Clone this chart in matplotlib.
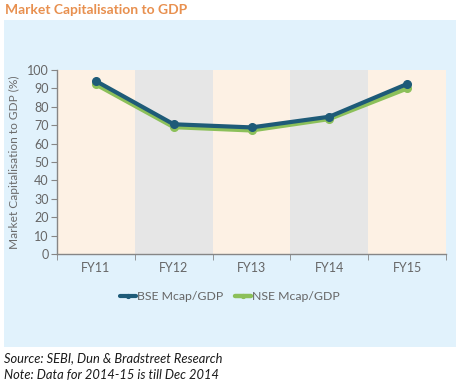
import matplotlib.pyplot as plt
from matplotlib.patches import Rectangle
import numpy as np

plt.rcParams['font.family'] = ['Lato', 'DejaVu Sans']

years = ["FY11", "FY12", "FY13", "FY14", "FY15"]
bse = [94.0, 70.5, 68.8, 74.6, 92.4]
nse = [92.2, 69.0, 67.2, 73.4, 90.0]

W, H = 458, 384
fig = plt.figure(figsize=(W / 100, H / 100), dpi=100)
fig.patch.set_facecolor("white")

# light blue panel behind the chart
fig.patches.append(Rectangle((4 / W, 1 - 347 / H), 452 / W, 327 / H,
                             transform=fig.transFigure, facecolor="#E1F2FC",
                             edgecolor="none", zorder=-1))

ax = fig.add_axes([57 / W, 1 - 254 / H, 389 / W, 184 / H])
ax.set_facecolor("none")

band_colors = ["#FDF1E4", "#E6E6E6"]
x = np.arange(len(years))
for i in x:
    ax.axvspan(i - 0.5, i + 0.5, color=band_colors[i % 2], zorder=0, lw=0)

ax.plot(x, bse, color="#1E5B78", lw=3, marker="o", ms=5.5, zorder=3,
        label="BSE Mcap/GDP", solid_capstyle="round")
ax.plot(x, nse, color="#8CC05A", lw=3.2, marker="o", ms=5.5, zorder=2.5,
        label="NSE Mcap/GDP", solid_capstyle="round")

ax.set_xlim(-0.5, len(years) - 0.5)
ax.set_ylim(0, 100)
ax.set_yticks(range(0, 101, 10))
ax.set_xticks(x)
ax.set_xticklabels(years)
ax.set_xticks(np.arange(-0.5, len(years), 1), minor=True)
ax.tick_params(axis="x", which="major", length=0, pad=6)
ax.tick_params(axis="x", which="minor", length=4, color="#868686", direction="out")
ax.tick_params(axis="y", length=4, color="#868686", pad=2)
ax.tick_params(labelsize=9, labelcolor="#666666")

for side in ["top", "right"]:
    ax.spines[side].set_visible(False)
for side in ["left", "bottom"]:
    ax.spines[side].set_color("#868686")
    ax.spines[side].set_linewidth(1)

ax.set_ylabel("Market Capitalisation to GDP (%)", fontsize=8.6, color="#6b6b6b",
              labelpad=5)

leg = fig.legend(loc="center", bbox_to_anchor=(230 / W, 1 - 297 / H), ncol=2,
                 frameon=False, fontsize=8.8, handlelength=1.3, handletextpad=0.05,
                 columnspacing=1.0, markerscale=0.5)
for t in leg.get_texts():
    t.set_color("#666666")

fig.text(5 / W, 1 - 10 / H, "Market Capitalisation to GDP", fontsize=10,
         fontweight="bold", color="#E8904F", va="center")
fig.text(4 / W, 1 - 358 / H, "Source: SEBI, Dun & Bradstreet Research",
         fontsize=9.3, style="italic", color="#1a1a1a", va="center")
fig.text(4 / W, 1 - 375 / H, "Note: Data for 2014-15 is till Dec 2014",
         fontsize=9.3, style="italic", color="#1a1a1a", va="center")

fig.savefig("out.png", dpi=100)
